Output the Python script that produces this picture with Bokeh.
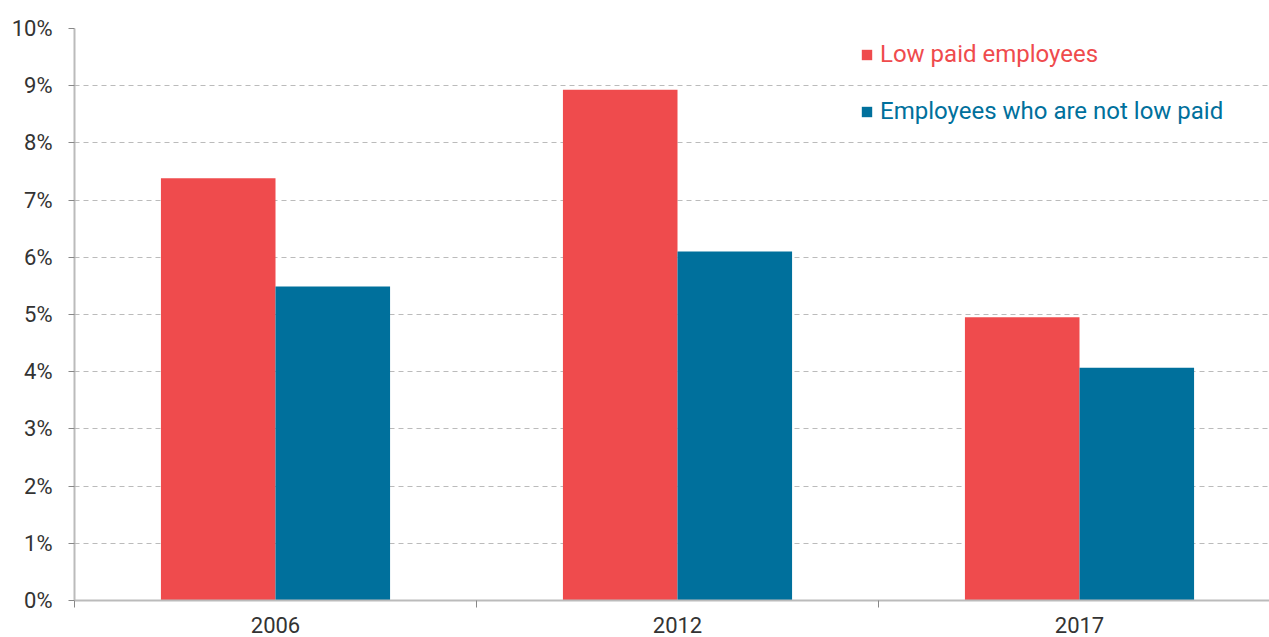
from bokeh.plotting import figure
from bokeh.models import Range1d, FixedTicker, Legend, LegendItem, CustomJSTickFormatter
from bokeh.embed import file_html
from bokeh.resources import INLINE

years = ["2006", "2012", "2017"]
low_paid = [7.38, 8.93, 4.95]
not_low_paid = [5.49, 6.10, 4.07]
y_ticks = [0, 1, 2, 3, 4, 5, 6, 7, 8, 9, 10]

RED = "#EF4B4D"
BLUE = "#00709C"
FONT = "Roboto"

centers = [i + 0.5 for i in range(len(years))]
bw = 0.285
red_x = [c - bw / 2 for c in centers]
blue_x = [c + bw / 2 for c in centers]

p = figure(width=1269, height=637, output_backend="svg", toolbar_location=None,
           x_range=Range1d(0, 1195 / 402), y_range=Range1d(0, 10),
           min_border_left=74, min_border_top=28, min_border_right=0, min_border_bottom=37)
p.outline_line_color = None

r1 = p.vbar(x=red_x, top=low_paid, width=bw, fill_color=RED, line_color=None)
r2 = p.vbar(x=blue_x, top=not_low_paid, width=bw, fill_color=BLUE, line_color=None)

# x axis
p.xaxis.ticker = FixedTicker(ticks=centers, minor_ticks=[0, 1, 2, 3])
p.xaxis.major_label_overrides = {c: y for c, y in zip(centers, years)}
p.xaxis.major_tick_line_color = None
p.xaxis.minor_tick_line_color = "#888888"
p.xaxis.minor_tick_out = 7
p.xaxis.minor_tick_in = 0
p.xaxis.axis_line_color = "#BBBBBB"
p.xaxis.axis_line_width = 2
p.xaxis.major_label_text_font = FONT
p.xaxis.major_label_text_font_size = "22px"
p.xaxis.major_label_text_color = "#333333"
p.xaxis.major_label_standoff = 9
p.xgrid.grid_line_color = None

# y axis
p.yaxis.ticker = FixedTicker(ticks=y_ticks)
p.yaxis.formatter = CustomJSTickFormatter(code="return tick + '%';")
p.yaxis.minor_tick_line_color = None
p.yaxis.major_tick_line_color = "#888888"
p.yaxis.major_tick_out = 6
p.yaxis.major_tick_in = 0
p.yaxis.axis_line_color = "#BBBBBB"
p.yaxis.axis_line_width = 2
p.yaxis.major_label_text_font = FONT
p.yaxis.major_label_text_font_size = "22px"
p.yaxis.major_label_text_color = "#333333"
p.yaxis.major_label_standoff = 16
p.ygrid.grid_line_color = "#BBBBBB"
p.ygrid.grid_line_dash = "5 4"
p.ygrid.grid_line_width = 1

frame_h = 572
for i, (label, rend, col) in enumerate([("Low paid employees", r1, RED),
                                          ("Employees who are not low paid", r2, BLUE)]):
    lg = Legend(items=[LegendItem(label=label, renderers=[rend])],
                location=(786, frame_h - 20 - i * 57 - 20),
                padding=0, margin=0, border_line_color=None, background_fill_alpha=0,
                glyph_width=13, glyph_height=13, label_standoff=7,
                label_text_font=FONT, label_text_font_size="24px",
                label_text_color=col, label_height=20, spacing=0)
    p.add_layout(lg, "center")

open("out.html", "w").write(file_html(p, INLINE))
